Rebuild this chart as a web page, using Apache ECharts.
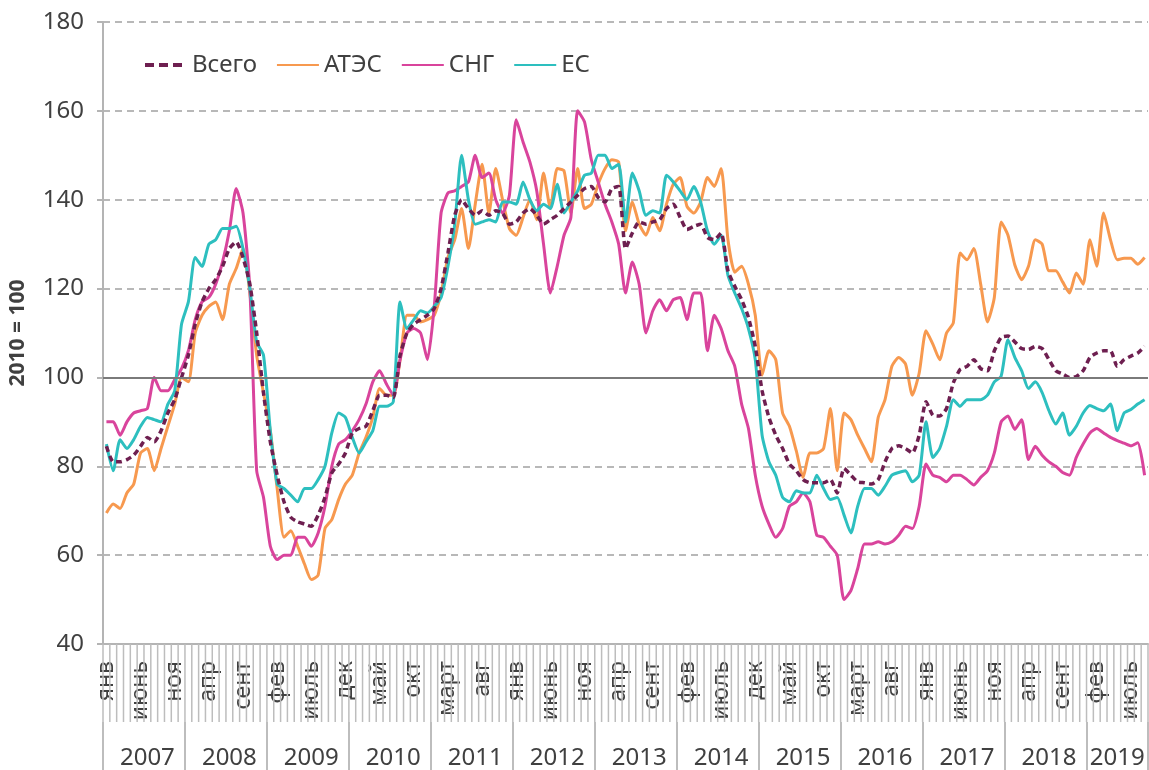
<!DOCTYPE html>
<html>
<head>
<meta charset="utf-8">
<script src="https://cdn.jsdelivr.net/npm/echarts@6/dist/echarts.min.js"></script>
<style>
  html, body { margin: 0; padding: 0; background: #fff; }
  #chart { width: 1149px; height: 770px; }
</style>
</head>
<body>
<div id="chart"></div>
<script>
// месяцы / годы
const years = [2007, 2008, 2009, 2010, 2011, 2012, 2013, 2014, 2015, 2016, 2017, 2018, 2019];
const monthNames = ['янв', 'фев', 'март', 'апр', 'май', 'июнь', 'июль', 'авг', 'сент', 'окт', 'ноя', 'дек'];
const monthsInLastYear = 9;

const categories = [];
years.forEach((y, k) => {
  const n = k === years.length - 1 ? monthsInLastYear : 12;
  for (let m = 1; m <= n; m++) categories.push(y + '-' + String(m).padStart(2, '0'));
});

// 2010 = 100
const yTicks = { min: 40, max: 180, step: 20 };
const baseValue = 100;

const seriesNames = ['Всего', 'АТЭС', 'СНГ', 'ЕС'];

const total = [
  84.5, 81, 81, 81.5, 82.5, 84.5, 86.5, 85.5, 88, 92, 95, 100,
  105, 112, 117, 120, 122, 125, 129, 130.5, 127, 121, 110, 96.5,
  85.5, 78, 72, 68.5, 67.5, 67, 66.5, 69, 73, 78.5, 80.5, 83,
  87.5, 88.5, 89, 92.5, 96, 96, 95.5, 105, 110, 112, 113, 114,
  115.5, 120, 128, 136.5, 140, 138, 136.5, 137.5, 136.5, 137.5, 137, 134.5,
  135, 137, 138, 136.5, 134.5, 135.5, 136.5, 138, 139.5, 141, 142.5, 143,
  140.5, 139.5, 142.5, 143, 129, 132.5, 135, 134.5, 135, 135.5, 138, 139,
  136, 133.3, 134, 134.5, 131.5, 131, 132.5, 124, 120.5, 117.5, 113.5, 107,
  97, 91, 87, 84, 80.5, 79, 77, 76.3, 76.3, 76.3, 77, 74,
  79.5, 78, 76.5, 76.3, 76, 77, 81, 84, 84.6, 84, 83, 87,
  94.5, 91.5, 91.3, 93, 98.8, 101.8, 102.5, 104, 102, 101.5, 106, 109,
  109.3, 108, 106.5, 106.3, 107, 106.5, 104, 101.5, 100.8, 100, 100.2, 101.5,
  104.5, 105.5, 106, 106, 102.5, 104, 104.8, 105.5, 107
];

const apec = [
  69.5, 71.5, 70.5, 74, 76, 83, 84, 79, 84, 89, 94, 100,
  99, 110, 114, 116, 117, 113, 121, 124.5, 129, 119, 105, 96.5,
  88, 75, 64, 65.5, 62, 58, 54.5, 55.5, 66, 68, 72.5, 76,
  78, 83, 86.5, 91, 97.5, 96, 96, 104, 114, 114, 112.5, 113,
  114, 119, 127, 131, 138, 129, 139, 148, 137, 147, 140, 133.5,
  132, 136, 140, 135.5, 146, 138, 147, 146.5, 137, 147, 138, 139,
  143.5, 147, 149, 148.5, 133, 139.5, 134.5, 132, 136, 133, 139, 143.5,
  145, 138.5, 137, 139.5, 145, 143, 147, 131, 123.7, 125, 121, 114,
  100.5, 106, 104, 92, 89, 83.5, 77.5, 83, 83, 84, 93, 79,
  92, 90.5, 87, 84, 81, 91, 95, 102.5, 104.5, 103, 96, 101,
  110.5, 107.5, 104, 110, 112.3, 128, 126.5, 129, 121, 112.5, 118, 135,
  132, 125.3, 122, 125, 131, 130, 124, 124, 121.5, 119, 123.5, 121,
  131, 125, 137, 131, 126.5, 126.8, 126.8, 125.5, 127
];

const cis = [
  90, 90, 87, 90, 92, 92.5, 93, 100, 97, 97, 99.5, 102,
  106, 113, 117, 118, 121, 126, 133, 142.5, 137, 120, 79, 73,
  62, 59, 60, 60, 64, 64, 62, 65, 71, 80, 85, 86,
  88, 90.5, 94, 99, 101.5, 98.5, 96, 104, 110, 111, 110, 104,
  116, 137, 141.5, 142, 143, 144, 150, 145, 146, 140, 137, 141,
  158, 153, 148.5, 142, 130, 119, 125, 132, 136, 160, 157.5, 149,
  144, 139, 135, 130, 119, 126, 121, 110, 115, 117.5, 115, 117.5,
  118, 113, 119, 119, 106, 114, 111, 106, 102.5, 94, 88.5, 78,
  71, 67, 64, 66, 71, 72, 74, 72, 64.5, 64, 62, 60,
  50, 52, 57, 62.5, 62.5, 63, 62.5, 63, 64.5, 66.5, 66, 71,
  80.5, 78, 77.5, 76.5, 78, 78, 77, 75.8, 77.5, 79, 83, 90,
  91.3, 88.3, 90.5, 81.5, 84.5, 82.5, 81, 80, 78.6, 78, 82, 85,
  87.5, 88.5, 87.5, 86.5, 85.8, 85.2, 84.6, 85.3, 78
];

const eu = [
  85, 79, 86, 84, 86, 89, 91, 90.5, 90, 94, 97, 112,
  117, 127, 125, 130, 131, 133.5, 133.5, 134, 129, 120, 108, 105,
  88, 76, 75, 73.5, 72, 75, 75, 77, 80, 87.5, 92, 91,
  86.5, 83, 85.5, 88, 93.5, 93.5, 94.5, 117, 111, 113, 115, 114.5,
  116, 118, 125, 134.5, 150, 140, 134.5, 135, 135.5, 135, 139.5, 139.5,
  139, 144, 140, 137.5, 139, 138, 143.5, 137, 139.5, 142, 145.5, 146,
  150, 150, 147, 148, 135, 146, 142, 136.5, 137.5, 137, 145.5, 144,
  142, 140, 143, 139.5, 133, 130, 132, 123, 119, 115.5, 111, 104,
  87, 81, 78, 73, 72, 74.5, 74, 74, 78, 75, 72.5, 73,
  69, 65, 71, 75, 75, 73.5, 75.5, 78, 78.6, 79, 76.5, 78,
  90, 82, 84, 89, 95, 93.5, 95, 95, 95, 96, 99, 100.3,
  108.5, 104.5, 101.5, 97.5, 99, 96.6, 92.5, 89.5, 92, 87, 89, 92,
  93.7, 93, 92.5, 94, 88, 92, 92.8, 94, 95
];

const colors = { total: '#6e1f50', apec: '#f7994f', cis: '#d9449c', eu: '#2dbfbf' };
const textColor = '#404040';
const gridGray = '#b8b8b8';
const axisGray = '#b4b4b4';
const tickGray = '#bdbdbd';
const monthTickLen = 78;
const font = '"Noto Sans", "Open Sans", sans-serif';

// подписи годов — по центру видимой части года
const yearLabelIdx = new Set();
let start = 0;
years.forEach((y, k) => {
  const n = k === years.length - 1 ? monthsInLastYear : 12;
  yearLabelIdx.add(start + Math.floor(n / 2));
  start += n;
});

const chart = echarts.init(document.getElementById('chart'));

const lineSeries = (name, data, color, extra) => Object.assign({
  name,
  type: 'line',
  data,
  smooth: 0.2,
  symbol: 'none',
  lineStyle: { color, width: 3 },
  itemStyle: { color },
}, extra || {});

// месячные деления под осью (обычные axisTick при такой плотности не рисуются)
const monthTicks = {
  type: 'custom',
  silent: true,
  clip: false,
  z: 1,
  data: categories.map((c, i) => [i, yTicks.min]),
  renderItem: (params, api) => {
    const i = api.value(0);
    const p = api.coord([i, yTicks.min]);
    const bw = api.size([1, 0])[0];
    const xs = [p[0] - bw / 2];
    if (i === categories.length - 1) xs.push(p[0] + bw / 2);
    return {
      type: 'group',
      children: xs.map((x) => ({
        type: 'line',
        shape: { x1: x, y1: p[1], x2: x, y2: p[1] + monthTickLen },
        style: { stroke: tickGray, lineWidth: 1.5 },
      })),
    };
  },
};

chart.setOption({
  animation: false,
  textStyle: { fontFamily: font },
  grid: { left: 103, right: 1, top: 22, bottom: 125 },
  legend: {
    left: 138,
    top: 48,
    itemWidth: 42,
    itemHeight: 14,
    itemGap: 19,
    itemStyle: { opacity: 0 },
    textStyle: { fontSize: 24, color: textColor, fontFamily: font },
    data: [
      { name: seriesNames[0], lineStyle: { type: [9, 5], width: 4 } },
      seriesNames[1],
      seriesNames[2],
      seriesNames[3],
    ],
  },
  xAxis: [
    {
      type: 'category',
      data: categories,
      boundaryGap: true,
      axisLine: { show: true, lineStyle: { color: axisGray, width: 2 } },
      axisTick: { show: false },
      axisLabel: {
        interval: (i) => i % 5 === 0,
        rotate: 90,
        margin: 17,
        fontSize: 23,
        color: textColor,
        fontFamily: font,
        formatter: (v) => monthNames[parseInt(v.slice(5), 10) - 1],
      },
      splitLine: { show: false },
    },
    {
      type: 'category',
      data: categories,
      boundaryGap: true,
      position: 'bottom',
      offset: monthTickLen,
      axisLine: { show: false },
      axisTick: { show: true, interval: (i) => i % 12 === 0, length: 50, lineStyle: { color: tickGray, width: 2 } },
      axisLabel: {
        interval: (i) => yearLabelIdx.has(i),
        margin: 24,
        fontSize: 24,
        color: textColor,
        fontFamily: font,
        formatter: (v) => v.slice(0, 4),
      },
      splitLine: { show: false },
    },
  ],
  yAxis: {
    type: 'value',
    min: yTicks.min,
    max: yTicks.max,
    interval: yTicks.step,
    name: '2010 = 100',
    nameLocation: 'middle',
    nameGap: 74,
    nameTextStyle: { fontSize: 21, fontWeight: 'bold', color: textColor, fontFamily: font },
    axisLine: { show: true, lineStyle: { color: axisGray, width: 2 } },
    axisTick: { show: true, length: 6, lineStyle: { color: axisGray, width: 2 } },
    axisLabel: { fontSize: 24, color: textColor, margin: 19, fontFamily: font },
    splitLine: { show: true, lineStyle: { color: gridGray, width: 2, type: [7, 5] } },
  },
  series: [
    lineSeries(seriesNames[0], total, colors.total, {
      lineStyle: { color: colors.total, width: 3.5, type: [6, 4] },
      z: 4,
      markLine: {
        silent: true,
        symbol: 'none',
        label: { show: false },
        lineStyle: { color: '#7a7a7a', type: 'solid', width: 2 },
        data: [{ yAxis: baseValue }],
      },
    }),
    lineSeries(seriesNames[1], apec, colors.apec, { z: 2 }),
    lineSeries(seriesNames[2], cis, colors.cis, { z: 3 }),
    lineSeries(seriesNames[3], eu, colors.eu, { z: 3 }),
    monthTicks,
  ],
});
</script>
</body>
</html>
